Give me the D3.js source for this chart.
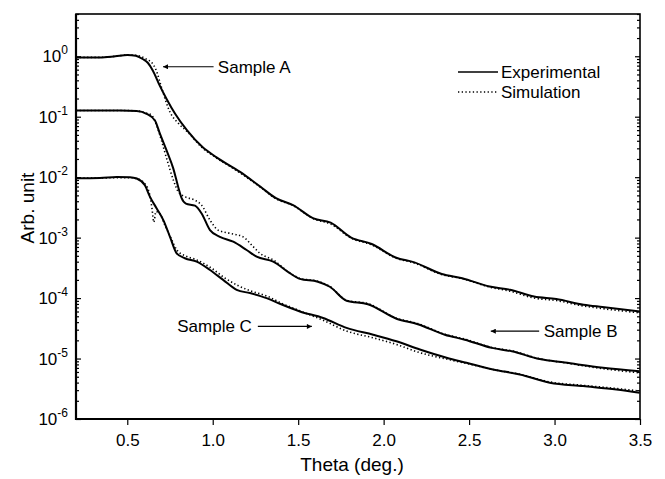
<!DOCTYPE html>
<html>
<head>
<meta charset="utf-8">
<script src="https://cdn.jsdelivr.net/npm/d3@7"></script>
<style>
  body { margin: 0; background: #fff; }
  text { font-family: "Liberation Sans", Arial, sans-serif; fill: #000; }
</style>
</head>
<body>
<div id="chart"></div>
<script>
// Sample A
const thetaExpA = [0.20, 0.34, 0.43, 0.50, 0.55, 0.59, 0.62, 0.65, 0.69, 0.73, 0.78, 0.85, 0.94, 1.02, 1.16, 1.28, 1.37, 1.47, 1.59, 1.69, 1.81, 1.93, 2.07, 2.18, 2.34, 2.46, 2.62, 2.74, 2.88, 3.01, 3.17, 3.28, 3.50];
const expA = [0.955, 0.955, 1.0, 1.047, 1.02, 0.90, 0.78, 0.577, 0.327, 0.197, 0.112, 0.0593, 0.0315, 0.0215, 0.0122, 0.0069, 0.00449, 0.00344, 0.00208, 0.00177, 0.00100, 0.000785, 0.00047, 0.000389, 0.000251, 0.000213, 0.000155, 0.000137, 0.000106, 0.0000964, 0.0000777, 0.0000711, 0.0000601];
const thetaSimA = [0.20, 0.34, 0.43, 0.50, 0.56, 0.61, 0.65, 0.67, 0.70, 0.75, 0.80, 0.85, 0.94, 1.02, 1.16, 1.28, 1.37, 1.47, 1.59, 1.69, 1.81, 1.93, 2.07, 2.18, 2.34, 2.46, 2.62, 2.74, 2.88, 3.01, 3.17, 3.28, 3.50];
const simA = [0.96, 0.96, 1.0, 1.05, 1.03, 0.90, 0.744, 0.577, 0.306, 0.119, 0.0773, 0.057, 0.0305, 0.021, 0.0118, 0.0068, 0.0044, 0.0034, 0.00205, 0.00168, 0.00098, 0.00076, 0.00046, 0.00038, 0.000245, 0.00021, 0.000152, 0.00013, 0.0001, 0.000091, 0.000074, 0.000067, 0.000057];

// Sample B
const thetaExpB = [0.20, 0.46, 0.555, 0.613, 0.662, 0.691, 0.730, 0.769, 0.798, 0.818, 0.843, 0.896, 0.935, 0.984, 1.042, 1.12, 1.198, 1.257, 1.354, 1.451, 1.51, 1.615, 1.685, 1.783, 1.908, 2.075, 2.2, 2.358, 2.475, 2.633, 2.75, 2.913, 3.06, 3.284, 3.498];
const expB = [0.1265, 0.1265, 0.124, 0.1116, 0.0866, 0.0523, 0.0277, 0.0140, 0.0069, 0.00449, 0.00365, 0.00338, 0.00251, 0.00133, 0.00103, 0.000856, 0.000625, 0.000484, 0.000401, 0.000258, 0.000208, 0.000186, 0.000154, 0.0000903, 0.0000791, 0.0000456, 0.000037, 0.0000248, 0.0000205, 0.000015, 0.0000132, 0.0000098, 0.0000086, 0.00000703, 0.00000618];
const thetaSimB = [0.20, 0.46, 0.555, 0.61, 0.64, 0.672, 0.70, 0.73, 0.77, 0.80, 0.84, 0.896, 0.935, 0.984, 1.032, 1.10, 1.178, 1.237, 1.276, 1.354, 1.451, 1.51, 1.615, 1.685, 1.783, 1.908, 2.075, 2.2, 2.358, 2.475, 2.633, 2.75, 2.913, 3.06, 3.284, 3.498];
const simB = [0.127, 0.127, 0.125, 0.115, 0.108, 0.0716, 0.0405, 0.0205, 0.0089, 0.00564, 0.00472, 0.00416, 0.00344, 0.00195, 0.00133, 0.00118, 0.00103, 0.000708, 0.000551, 0.000427, 0.000262, 0.000212, 0.00019, 0.000156, 0.000092, 0.000081, 0.0000465, 0.0000378, 0.0000252, 0.000021, 0.0000152, 0.0000134, 0.0000099, 0.0000085, 0.0000068, 0.0000058];

// Sample C
const thetaExpC = [0.20, 0.34, 0.438, 0.516, 0.555, 0.603, 0.633, 0.672, 0.711, 0.75, 0.789, 0.837, 0.906, 0.984, 1.061, 1.14, 1.218, 1.315, 1.393, 1.51, 1.646, 1.783, 1.939, 2.075, 2.212, 2.368, 2.485, 2.64, 2.797, 2.972, 3.167, 3.362, 3.498];
const expC = [0.0096, 0.0097, 0.0101, 0.0100, 0.0095, 0.00736, 0.00472, 0.00304, 0.00195, 0.00103, 0.000551, 0.000456, 0.000401, 0.000292, 0.0002, 0.000137, 0.000121, 0.0001, 0.0000805, 0.0000601, 0.0000469, 0.0000321, 0.0000248, 0.0000193, 0.0000141, 0.0000103, 0.0000085, 0.0000066, 0.00000545, 0.00000398, 0.0000035, 0.00000308, 0.00000272];
const thetaSimC = [0.20, 0.34, 0.44, 0.52, 0.56, 0.595, 0.626, 0.645, 0.655, 0.668, 0.69, 0.72, 0.756, 0.79, 0.84, 0.90, 0.99, 1.07, 1.15, 1.22, 1.32, 1.40, 1.51, 1.646, 1.783, 1.939, 2.075, 2.212, 2.368, 2.485, 2.64, 2.797, 2.972, 3.167, 3.362, 3.498];
const simC = [0.0097, 0.0097, 0.0098, 0.0098, 0.0094, 0.00824, 0.00586, 0.0030, 0.0018, 0.0027, 0.0025, 0.00161, 0.00098, 0.000625, 0.000498, 0.000436, 0.000316, 0.000216, 0.00016, 0.000132, 0.000107, 0.000083, 0.0000615, 0.000043, 0.0000285, 0.000022, 0.0000171, 0.0000125, 0.0000098, 0.0000083, 0.0000066, 0.0000055, 0.0000041, 0.0000036, 0.0000032, 0.0000029];

const xTicks = [0.5, 1.0, 1.5, 2.0, 2.5, 3.0, 3.5];
const yExponents = [0, -1, -2, -3, -4, -5, -6];
const legendLabels = ["Experimental", "Simulation"];
const sampleLabels = ["Sample A", "Sample B", "Sample C"];

const width = 665;
const height = 479;
const margin = { top: 14, right: 25, bottom: 60, left: 76 };

const x = d3.scaleLinear().domain([0.2, 3.5]).range([margin.left, width - margin.right]);
const y = d3.scaleLog().domain([1e-6, 5]).range([height - margin.bottom, margin.top]);

const svg = d3.select("#chart")
  .append("svg")
  .attr("width", width)
  .attr("height", height);

const zip = (t, v) => t.map((d, i) => ({ t: d, v: v[i] }));

const line = d3.line()
  .x(d => x(d.t))
  .y(d => y(d.v))
  .curve(d3.curveMonotoneX);

const series = [
  { data: zip(thetaExpA, expA), sim: false },
  { data: zip(thetaExpB, expB), sim: false },
  { data: zip(thetaExpC, expC), sim: false },
  { data: zip(thetaSimA, simA), sim: true },
  { data: zip(thetaSimB, simB), sim: true },
  { data: zip(thetaSimC, simC), sim: true }
];

// curves
svg.append("g")
  .selectAll("path")
  .data(series)
  .enter()
  .append("path")
  .attr("d", d => line(d.data))
  .attr("fill", "none")
  .attr("stroke", "#000")
  .attr("stroke-width", d => (d.sim ? 1.6 : 2))
  .attr("stroke-dasharray", d => (d.sim ? "1.3 2.4" : null));

// y minor/major ticks, both sides, pointing inward
const minorVals = [];
yExponents.forEach(e => {
  for (let m = 2; m <= 9; m++) {
    const v = m * Math.pow(10, e);
    if (v <= 5 && v >= 1e-6) minorVals.push(v);
  }
});
const majorVals = yExponents.map(e => Math.pow(10, e));

const addYTicks = (axisFn, xPos) => {
  svg.append("g")
    .attr("transform", "translate(" + xPos + ",0)")
    .call(axisFn(y).tickValues(minorVals).tickSize(3).tickFormat(""))
    .call(g => g.select(".domain").remove());
  svg.append("g")
    .attr("transform", "translate(" + xPos + ",0)")
    .call(axisFn(y).tickValues(majorVals).tickSize(5).tickFormat(""))
    .call(g => g.select(".domain").remove());
};
addYTicks(d3.axisRight, margin.left);
addYTicks(d3.axisLeft, width - margin.right);
svg.selectAll(".tick line").attr("stroke-width", 1.2);

// y tick labels 10^n
const yLab = svg.append("g")
  .selectAll("text")
  .data(yExponents)
  .enter()
  .append("text")
  .attr("x", 68)
  .attr("y", d => y(Math.pow(10, d)) + 6)
  .attr("text-anchor", "end")
  .style("font-size", "17px")
  .text("10");
yLab.append("tspan")
  .attr("dy", -8)
  .style("font-size", "12px")
  .text(d => (d === 0 ? "0" : "-" + Math.abs(d)));

// x axis
svg.append("g")
  .attr("transform", "translate(0," + (height - margin.bottom) + ")")
  .call(d3.axisBottom(x).tickValues(xTicks).tickSize(6).tickPadding(9).tickFormat(d3.format(".1f")))
  .call(g => g.select(".domain").remove())
  .call(g => g.selectAll(".tick line").attr("stroke-width", 1.2))
  .call(g => g.selectAll("text").style("font-size", "17px").style("font-family", "Liberation Sans, Arial, sans-serif"));

// frame
svg.append("rect")
  .attr("x", margin.left)
  .attr("y", margin.top)
  .attr("width", width - margin.left - margin.right)
  .attr("height", height - margin.top - margin.bottom)
  .attr("fill", "none")
  .attr("stroke", "#000")
  .attr("stroke-width", 1.6);
svg.append("path")
  .attr("d", "M" + margin.left + "," + margin.top + "V" + (height - margin.bottom) + "H" + (width - margin.right))
  .attr("fill", "none")
  .attr("stroke", "#000")
  .attr("stroke-width", 2.2);

// axis titles
svg.append("text")
  .attr("x", 352)
  .attr("y", 471)
  .attr("text-anchor", "middle")
  .style("font-size", "19px")
  .text("Theta (deg.)");

svg.append("text")
  .attr("transform", "translate(34,208) rotate(-90)")
  .attr("text-anchor", "middle")
  .style("font-size", "19px")
  .text("Arb. unit");

// legend
const legend = svg.append("g").attr("transform", "translate(458,72)");
legendLabels.forEach((lab, i) => {
  legend.append("line")
    .attr("x1", 0).attr("x2", 40)
    .attr("y1", i * 20).attr("y2", i * 20)
    .attr("stroke", "#000")
    .attr("stroke-width", i ? 1.6 : 1.5)
    .attr("stroke-dasharray", i ? "1.3 2.4" : null);
  legend.append("text")
    .attr("x", 43)
    .attr("y", i * 20 + 6)
    .style("font-size", "17px")
    .text(lab);
});

// sample annotations (positions in data units)
const notes = [
  { label: sampleLabels[0], tipT: 0.709, tailT: 1.005, v: 0.671, textT: 1.03, anchor: "start" },
  { label: sampleLabels[1], tipT: 2.627, tailT: 2.91, v: 0.0000284, textT: 2.937, anchor: "start" },
  { label: sampleLabels[2], tipT: 1.58, tailT: 1.264, v: 0.000034, textT: 1.229, anchor: "end" }
];

const defs = svg.append("defs");
defs.append("marker")
  .attr("id", "arrowHead")
  .attr("viewBox", "0 0 10 10")
  .attr("refX", 10)
  .attr("refY", 5)
  .attr("markerWidth", 7)
  .attr("markerHeight", 5)
  .attr("markerUnits", "userSpaceOnUse")
  .attr("orient", "auto")
  .append("path")
  .attr("d", "M0,0L10,5L0,10Z")
  .attr("fill", "#000");

notes.forEach(n => {
  svg.append("line")
    .attr("x1", x(n.tailT)).attr("x2", x(n.tipT))
    .attr("y1", y(n.v)).attr("y2", y(n.v))
    .attr("stroke", "#000")
    .attr("stroke-width", 1.2)
    .attr("marker-end", "url(#arrowHead)");
  svg.append("text")
    .attr("x", x(n.textT))
    .attr("y", y(n.v) + 6)
    .attr("text-anchor", n.anchor)
    .style("font-size", "17px")
    .text(n.label);
});
</script>
</body>
</html>
